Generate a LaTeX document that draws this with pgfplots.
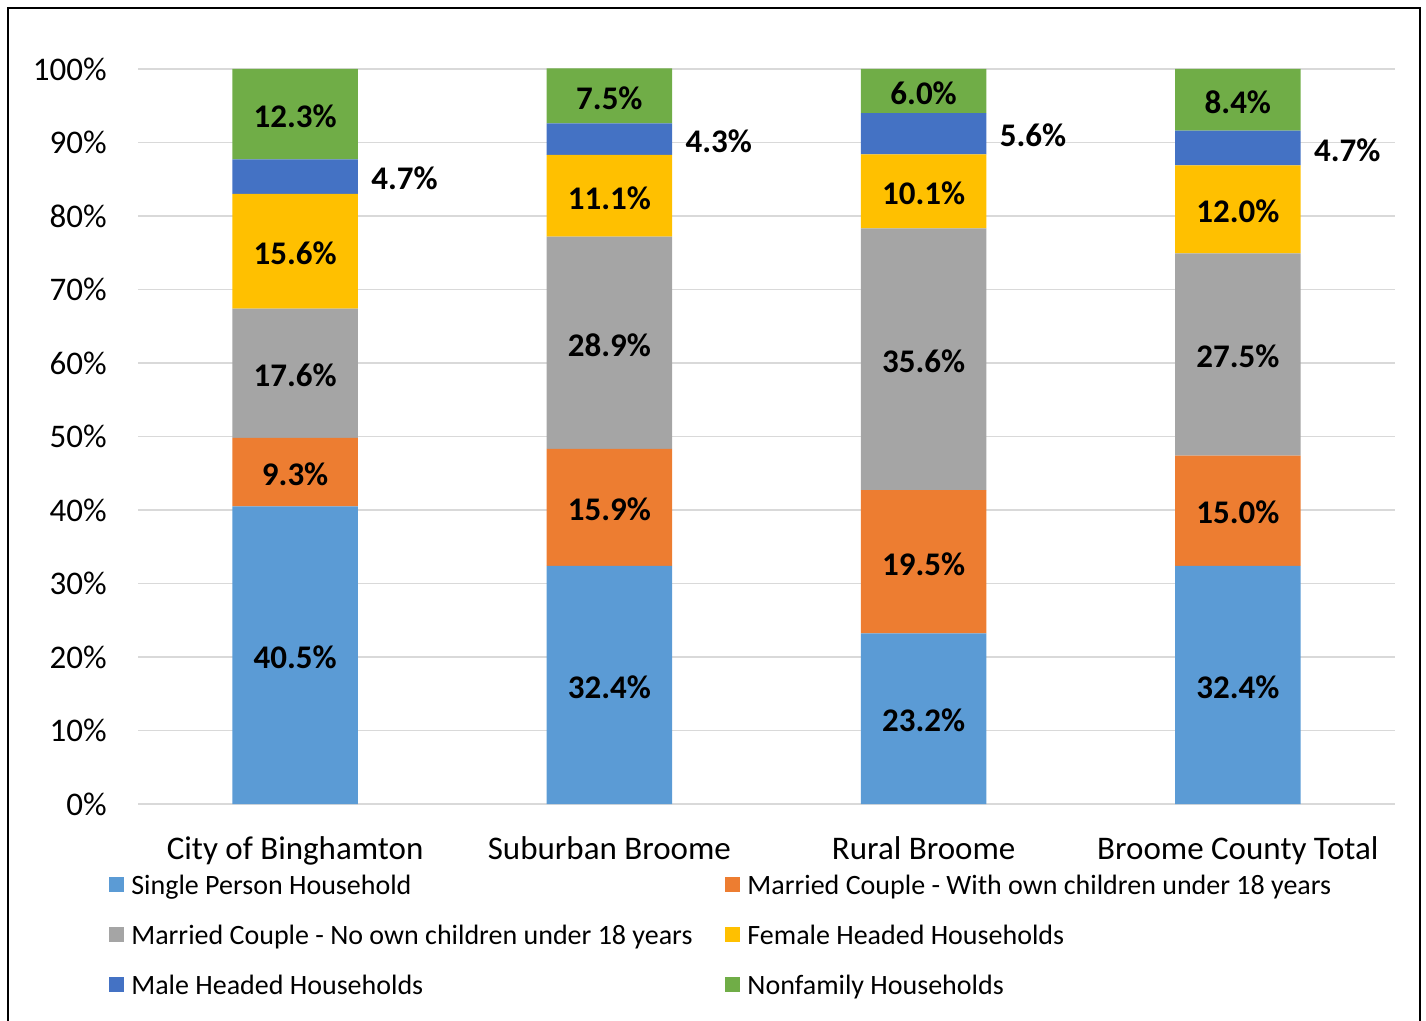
\documentclass[border=0pt]{standalone}
\usepackage{pgfplots}
\pgfplotsset{compat=1.18}
\usepackage{pgfplotstable}
\usepackage{fontspec}
\setmainfont{Carlito}
\definecolor{cSP}{HTML}{5B9BD5}
\definecolor{cMC}{HTML}{ED7D31}
\definecolor{cNC}{HTML}{A5A5A5}
\definecolor{cFH}{HTML}{FFC000}
\definecolor{cMH}{HTML}{4472C4}
\definecolor{cNF}{HTML}{70AD47}
\definecolor{gridc}{HTML}{D9D9D9}

\pgfplotstableread{
x sp mc nc fh mh nf
0 40.5 9.3 17.6 15.6 4.7 12.3
1 32.4 15.9 28.9 11.1 4.3 7.5
2 23.2 19.5 35.6 10.1 5.6 6.0
3 32.4 15.0 27.5 12.0 4.7 8.4
}\datatable

\pgfplotsset{
  common/.style={
    at={(0,0)}, anchor=south west,
    scale only axis, width=628.5bp, height=367.5bp,
    xmin=-0.5, xmax=3.5, ymin=0, ymax=100,
    enlargelimits=false,
    /pgf/number format/assume math mode=true,
  },
}
\begin{document}
\begin{tikzpicture}
\begin{axis}[common,
  ybar stacked, bar width=0.4,
  xtick={0,1,2,3},
  xticklabels={City of Binghamton, Suburban Broome, Rural Broome, Broome County Total},
  ytick={0,10,...,100},
  yticklabel={\pgfmathprintnumber{\tick}\%},
  ymajorgrids, grid style={gridc, line width=0.75bp},
  axis line style={draw=none},
  major tick length=0pt,
  tick label style={font=\fontsize{16.5bp}{19bp}\selectfont},
  xticklabel style={anchor=base, yshift=-27.5bp},
  yticklabel style={anchor=east, inner sep=0pt, xshift=-15.5bp},
  legend columns=2,
  legend cell align=left,
  legend image code/.code={\fill[#1] (0bp,-2.25bp) rectangle (7.5bp,5.25bp);},
  legend style={at={(axis description cs:-0.0231,-0.095)}, anchor=north west, draw=none, fill=none,
     inner sep=0pt,
     font=\fontsize{14bp}{16bp}\selectfont,
     nodes={inner sep=0pt, text height=10bp, text depth=3bp},
     row sep=12bp,
     /tikz/every odd column/.append style={column sep=3.5bp},
     /tikz/every even column/.append style={column sep=16.5bp}},
]
\addplot[fill=cSP, draw=none] table[x=x,y=sp]{\datatable};
\addlegendentry{Single Person Household}
\addplot[fill=cMC, draw=none] table[x=x,y=mc]{\datatable};
\addlegendentry{Married Couple - With own children under 18 years}
\addplot[fill=cNC, draw=none] table[x=x,y=nc]{\datatable};
\addlegendentry{Married Couple - No own children under 18 years}
\addplot[fill=cFH, draw=none] table[x=x,y=fh]{\datatable};
\addlegendentry{Female Headed Households}
\addplot[fill=cMH, draw=none] table[x=x,y=mh]{\datatable};
\addlegendentry{Male Headed Households}
\addplot[fill=cNF, draw=none] table[x=x,y=nf]{\datatable};
\addlegendentry{Nonfamily Households}
\end{axis}
\begin{axis}[common, hide axis, clip=false,
  nodes near coords={\pgfmathprintnumber[fixed,fixed zerofill,precision=1]{\pgfplotspointmeta}\%},
  every node near coord/.append style={font=\bfseries\fontsize{16.5bp}{19bp}\selectfont, anchor=center, inner sep=0pt, text=black, yshift=-1bp},
]
\addplot[draw=none, mark=none, point meta=explicit] table[x=x, y expr=\thisrow{sp}/2, meta=sp]{\datatable};
\addplot[draw=none, mark=none, point meta=explicit] table[x=x, y expr=\thisrow{sp}+\thisrow{mc}/2, meta=mc]{\datatable};
\addplot[draw=none, mark=none, point meta=explicit] table[x=x, y expr=\thisrow{sp}+\thisrow{mc}+\thisrow{nc}/2, meta=nc]{\datatable};
\addplot[draw=none, mark=none, point meta=explicit] table[x=x, y expr=\thisrow{sp}+\thisrow{mc}+\thisrow{nc}+\thisrow{fh}/2, meta=fh]{\datatable};
\addplot[draw=none, mark=none, point meta=explicit, every node near coord/.append style={anchor=west, xshift=6.5bp}] table[x expr=\thisrow{x}+0.2, y expr=\thisrow{sp}+\thisrow{mc}+\thisrow{nc}+\thisrow{fh}+\thisrow{mh}/2, meta=mh]{\datatable};
\addplot[draw=none, mark=none, point meta=explicit] table[x=x, y expr=\thisrow{sp}+\thisrow{mc}+\thisrow{nc}+\thisrow{fh}+\thisrow{mh}+\thisrow{nf}/2, meta=nf]{\datatable};
\end{axis}
\draw[black, line width=1bp] (-65bp,-140bp) rectangle (641bp,398bp);
\pgfresetboundingbox
\path[use as bounding box] (-69bp,-108.5bp) rectangle (644bp,402bp);
\end{tikzpicture}
\end{document}
